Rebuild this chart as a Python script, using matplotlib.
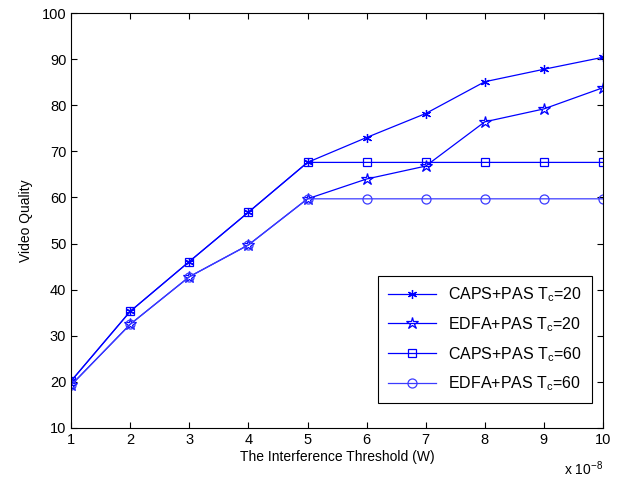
import matplotlib.pyplot as plt
import numpy as np

plt.rcParams['font.family'] = ['Liberation Sans', 'DejaVu Sans']

threshold = [1, 2, 3, 4, 5, 6, 7, 8, 9, 10]
caps_tc20 = [20.2, 35.3, 46.1, 56.8, 67.6, 73.0, 78.2, 85.1, 87.8, 90.4]
edfa_tc20 = [19.3, 32.5, 42.8, 49.7, 59.7, 64.0, 66.8, 76.4, 79.2, 83.8]
caps_tc60 = [20.2, 35.3, 46.1, 56.8, 67.6, 67.6, 67.6, 67.6, 67.6, 67.6]
edfa_tc60 = [19.3, 32.5, 42.8, 49.7, 59.7, 59.7, 59.7, 59.7, 59.7, 59.7]

fig = plt.figure(figsize=(6.3, 4.83), dpi=100)
ax = fig.add_axes([0.113, 0.114, 0.844, 0.859])

lw = 0.9
ax.plot(threshold, caps_tc20, color='b', lw=lw, marker=(6, 2, 0), ms=6.5, mew=0.9,
        label=r'CAPS+PAS T$_\mathregular{c}$=20')
ax.plot(threshold, edfa_tc20, color='b', lw=lw, marker='*', ms=9, mew=0.9, mfc='none',
        label=r'EDFA+PAS T$_\mathregular{c}$=20')
ax.plot(threshold, caps_tc60, color='b', lw=lw, marker='s', ms=6, mew=0.9, mfc='none',
        label=r'CAPS+PAS T$_\mathregular{c}$=60')
ax.plot(threshold, edfa_tc60, color='#3c3cff', lw=lw, marker='o', ms=6.5, mew=0.9, mfc='none',
        label=r'EDFA+PAS T$_\mathregular{c}$=60')

ax.set_xlim(1, 10)
ax.set_ylim(10, 100)
ax.set_xticks(np.arange(1, 11))
ax.set_yticks(np.arange(10, 101, 10))
ax.tick_params(direction='in', top=True, right=True, labelsize=10.5, length=4)
for s in ax.spines.values():
    s.set_linewidth(0.8)

ax.set_xlabel('The Interference Threshold (W)', fontsize=10, labelpad=2)
ax.set_ylabel('Video Quality', fontsize=10, labelpad=6)
ax.text(1.0, -0.075, r'x 10$^{\mathregular{-8}}$', transform=ax.transAxes,
        ha='right', va='top', fontsize=10)

leg = ax.legend(loc='lower right', bbox_to_anchor=(0.979, 0.06), borderaxespad=0,
                fontsize=11.5, fancybox=False, edgecolor='black', framealpha=1,
                handlelength=3, borderpad=0.6, labelspacing=0.7)
leg.get_frame().set_linewidth(0.8)

fig.savefig('out.png', dpi=100)
